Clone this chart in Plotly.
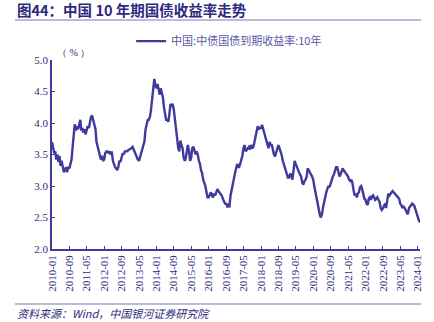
import pandas as pd
import plotly.graph_objects as go

# semi-monthly readings (1st and 15th of each month), %
y2010 = [3.70, 3.62, 3.52, 3.55, 3.42, 3.50, 3.38, 3.48, 3.32, 3.40, 3.28, 3.22,
         3.26, 3.30, 3.22, 3.30, 3.28, 3.35, 3.42, 3.60, 3.80, 3.98, 3.88, 3.95]
y2011 = [3.90, 3.95, 4.05, 3.88, 3.92, 3.85, 3.90, 3.82, 3.88, 3.95, 3.92, 4.05,
         4.10, 4.12, 4.05, 3.95, 3.90, 3.70, 3.62, 3.55, 3.48, 3.42, 3.48, 3.40]
y2012 = [3.42, 3.52, 3.55, 3.55, 3.52, 3.55, 3.50, 3.55, 3.40, 3.35, 3.30, 3.28,
         3.25, 3.30, 3.40, 3.38, 3.45, 3.52, 3.50, 3.55, 3.55, 3.55, 3.57, 3.58]
y2013 = [3.58, 3.60, 3.62, 3.58, 3.55, 3.52, 3.45, 3.42, 3.40, 3.45, 3.55, 3.60,
         3.65, 3.70, 3.90, 4.00, 4.05, 4.05, 4.10, 4.20, 4.40, 4.55, 4.70, 4.60]
y2014 = [4.55, 4.62, 4.50, 4.45, 4.55, 4.48, 4.40, 4.25, 4.15, 4.05, 4.05, 4.02,
         4.15, 4.30, 4.28, 4.30, 4.20, 4.05, 3.85, 3.75, 3.60, 3.55, 3.72, 3.65]
y2015 = [3.60, 3.45, 3.40, 3.45, 3.55, 3.65, 3.55, 3.40, 3.45, 3.60, 3.62, 3.55,
         3.50, 3.55, 3.50, 3.40, 3.35, 3.25, 3.20, 3.10, 3.05, 3.00, 2.90, 2.82]
y2016 = [2.82, 2.85, 2.90, 2.85, 2.82, 2.88, 2.85, 2.90, 2.95, 2.92, 2.90, 2.88,
         2.85, 2.80, 2.75, 2.72, 2.72, 2.68, 2.70, 2.66, 2.85, 2.95, 3.05, 3.10]
y2017 = [3.20, 3.28, 3.35, 3.30, 3.30, 3.35, 3.42, 3.48, 3.60, 3.65, 3.55, 3.58,
         3.60, 3.62, 3.58, 3.65, 3.60, 3.62, 3.70, 3.80, 3.90, 3.95, 3.90, 3.92]
y2018 = [3.92, 3.97, 3.90, 3.85, 3.80, 3.75, 3.65, 3.60, 3.70, 3.65, 3.65, 3.55,
         3.50, 3.47, 3.55, 3.60, 3.65, 3.60, 3.55, 3.50, 3.40, 3.35, 3.30, 3.25]
y2019 = [3.15, 3.12, 3.15, 3.20, 3.15, 3.10, 3.25, 3.40, 3.35, 3.30, 3.25, 3.22,
         3.18, 3.15, 3.05, 3.02, 3.08, 3.10, 3.15, 3.28, 3.25, 3.20, 3.18, 3.15]
y2020 = [3.10, 3.00, 2.90, 2.80, 2.70, 2.60, 2.55, 2.50, 2.55, 2.65, 2.75, 2.85,
         2.90, 2.95, 3.00, 2.98, 3.05, 3.10, 3.15, 3.18, 3.25, 3.30, 3.30, 3.20]
y2021 = [3.15, 3.18, 3.25, 3.28, 3.25, 3.22, 3.20, 3.18, 3.15, 3.10, 3.08, 3.10,
         3.05, 2.95, 2.85, 2.88, 2.82, 2.88, 2.90, 2.98, 3.00, 2.95, 2.88, 2.80]
y2022 = [2.78, 2.72, 2.70, 2.80, 2.82, 2.78, 2.83, 2.85, 2.82, 2.78, 2.80, 2.82,
         2.78, 2.75, 2.65, 2.62, 2.65, 2.68, 2.72, 2.65, 2.80, 2.88, 2.85, 2.88]
y2023 = [2.90, 2.92, 2.90, 2.88, 2.86, 2.85, 2.83, 2.80, 2.72, 2.70, 2.65, 2.68,
         2.65, 2.62, 2.58, 2.55, 2.65, 2.68, 2.70, 2.72, 2.70, 2.68, 2.62, 2.56]
y2024 = [2.52, 2.46, 2.42]

values = (y2010 + y2011 + y2012 + y2013 + y2014 + y2015 + y2016 + y2017 +
          y2018 + y2019 + y2020 + y2021 + y2022 + y2023 + y2024)
dates = pd.date_range("2010-01-01", periods=len(values), freq="SMS")

tick_labels = ["2010-01", "2010-09", "2011-05", "2012-01", "2012-09", "2013-05",
               "2014-01", "2014-09", "2015-05", "2016-01", "2016-09", "2017-05",
               "2018-01", "2018-09", "2019-05", "2020-01", "2020-09", "2021-05",
               "2022-01", "2022-09", "2023-05", "2024-01"]
tick_vals = [pd.Timestamp(t + "-01") for t in tick_labels]

series_name = "中国:中债国债到期收益率:10年"
title_text = "图44：中国 10 年期国债收益率走势"
source_text = "资料来源：Wind，中国银河证券研究院"

navy = "#2E2A7C"
line_col = "#3F3A9B"
serif = "Liberation Serif"
cjk = "Noto Sans CJK SC"

fig = go.Figure()
fig.add_trace(go.Scatter(x=dates, y=values, mode="lines", name=series_name,
                         line=dict(color=line_col, width=2.4)))

fig.update_layout(
    width=434, height=322,
    margin=dict(l=52, r=14, t=60, b=73),
    paper_bgcolor="white", plot_bgcolor="white",
    showlegend=True,
    legend=dict(x=0.215, y=1.10, xanchor="left", yanchor="middle",
                orientation="h", font=dict(family=cjk, size=11, color="#5B56A6"),
                bgcolor="rgba(0,0,0,0)", itemwidth=30),
    xaxis=dict(range=[pd.Timestamp("2010-01-01"), pd.Timestamp("2024-02-01")],
               tickvals=tick_vals, ticktext=tick_labels, tickangle=-90,
               showgrid=False, zeroline=False, showline=True,
               linecolor=line_col, linewidth=1.5,
               ticks="inside", ticklen=3, tickcolor=line_col,
               tickfont=dict(family=serif, size=11, color=navy)),
    yaxis=dict(range=[2.0, 5.0], dtick=0.5, tickformat=".1f",
               showgrid=False, zeroline=False, showline=True,
               linecolor=line_col, linewidth=1.5,
               ticks="inside", ticklen=3, tickcolor=line_col,
               tickfont=dict(family=serif, size=11, color=navy)),
)

fig.add_annotation(text=title_text, xref="paper", yref="paper",
                   x=(15 - 52) / 368, y=(249 - 10) / 189,
                   xanchor="left", yanchor="middle", showarrow=False,
                   font=dict(family=cjk, size=14.5, color=navy, weight="bold"))
fig.add_annotation(text="（ % ）", xref="paper", yref="paper",
                   x=(73 - 52) / 368, y=(249 - 52) / 189,
                   xanchor="center", yanchor="middle", showarrow=False,
                   font=dict(family=serif, size=10, color=navy))
fig.add_annotation(text="<i>" + source_text + "</i>", xref="paper", yref="paper",
                   x=(15 - 52) / 368, y=(249 - 313) / 189,
                   xanchor="left", yanchor="middle", showarrow=False,
                   font=dict(family=cjk, size=11, color=navy))
fig.add_shape(type="line", xref="paper", yref="paper",
              x0=(15 - 52) / 368, x1=(421 - 52) / 368,
              y0=(249 - 20) / 189, y1=(249 - 20) / 189,
              line=dict(color="#7A76B8", width=1))
fig.add_shape(type="line", xref="paper", yref="paper",
              x0=(15 - 52) / 368, x1=(421 - 52) / 368,
              y0=(249 - 304) / 189, y1=(249 - 304) / 189,
              line=dict(color="#7A76B8", width=1))

fig.write_html("out.html")
